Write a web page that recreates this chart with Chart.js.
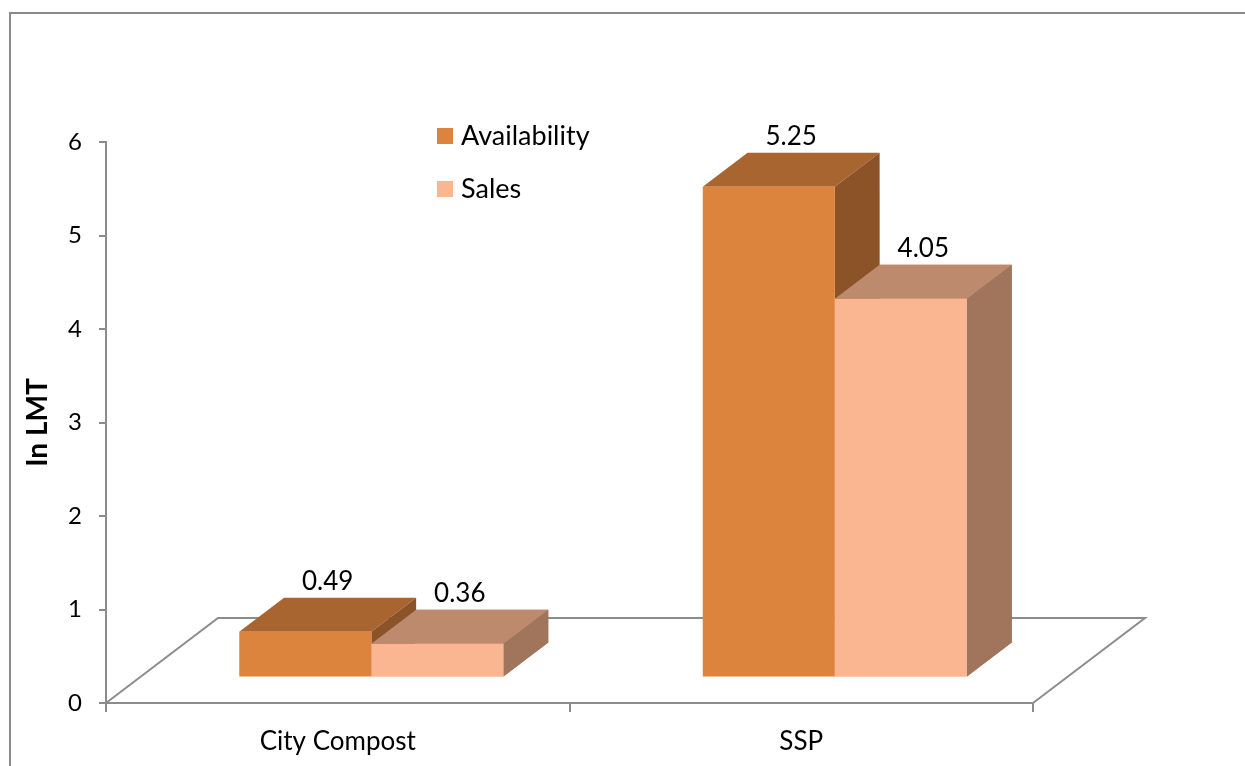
<!DOCTYPE html>
<html>
<head>
<meta charset="utf-8">
<script src="https://cdn.jsdelivr.net/npm/chart.js@4.4.0/dist/chart.umd.min.js"></script>
<style>
  html, body { margin: 0; padding: 0; background: #fff; }
  #wrap { width: 1245px; height: 766px; }
</style>
</head>
<body>
<div id="wrap"><canvas id="chart" width="1245" height="766"></canvas></div>
<script>
// data
const categories = ['City Compost', 'SSP'];
const availability = [0.49, 5.25];
const sales = [0.36, 4.05];
const yTicks = [0, 1, 2, 3, 4, 5, 6];

const FONT = 'Lato, "Open Sans", sans-serif';
const AXIS_GREY = '#8c8c8c';

// 3D look: floor depth and where the bars sit inside it
const FLOOR_DX = 112;
const FLOOR_DY = 85;
const BAR_POS = 0.3;
const BAR_DEPTH = 0.4;

// top + side faces of one bar
function drawFaces(ctx, bar, ds) {
  const dx = FLOOR_DX * BAR_DEPTH;
  const dy = FLOOR_DY * BAR_DEPTH;
  const { x, y, base, width } = bar.getProps(['x', 'y', 'base', 'width'], true);
  const l = x - width / 2;
  const r = x + width / 2;
  ctx.fillStyle = ds.topColor;
  ctx.beginPath();
  ctx.moveTo(l, y);
  ctx.lineTo(l + dx, y - dy);
  ctx.lineTo(r + dx, y - dy);
  ctx.lineTo(r, y);
  ctx.closePath();
  ctx.fill();
  ctx.fillStyle = ds.sideColor;
  ctx.beginPath();
  ctx.moveTo(r, y);
  ctx.lineTo(r + dx, y - dy);
  ctx.lineTo(r + dx, base - dy);
  ctx.lineTo(r, base);
  ctx.closePath();
  ctx.fill();
}

const box3d = {
  id: 'box3d',
  beforeDraw(chart) {
    const ctx = chart.ctx;
    ctx.save();
    ctx.fillStyle = '#fff';
    ctx.fillRect(0, 0, chart.width, chart.height);
    ctx.strokeStyle = '#8a8a8a';
    ctx.lineWidth = 2;
    ctx.strokeRect(10, 13, chart.width + 20, chart.height + 20);
    ctx.restore();
  },
  beforeDatasetsDraw(chart) {
    const { ctx, chartArea: a } = chart;
    ctx.save();
    // floor of the 3D box
    ctx.strokeStyle = AXIS_GREY;
    ctx.lineWidth = 2;
    ctx.beginPath();
    ctx.moveTo(a.left, a.bottom);
    ctx.lineTo(a.left + FLOOR_DX, a.bottom - FLOOR_DY);
    ctx.lineTo(a.right + FLOOR_DX, a.bottom - FLOOR_DY);
    ctx.lineTo(a.right, a.bottom);
    ctx.stroke();
    // bars stand a little way back on the floor
    ctx.translate(FLOOR_DX * BAR_POS, -FLOOR_DY * BAR_POS);
  },
  beforeDatasetDraw(chart, args) {
    const ds = chart.data.datasets[args.index];
    args.meta.data.forEach(bar => drawFaces(chart.ctx, bar, ds));
  },
  afterDatasetsDraw(chart) {
    const ctx = chart.ctx;
    // chart.js paints the first dataset last; repaint the right-hand series on top
    for (let i = 1; i < chart.data.datasets.length; i++) {
      const ds = chart.data.datasets[i];
      chart.getDatasetMeta(i).data.forEach(bar => {
        drawFaces(ctx, bar, ds);
        bar.draw(ctx);
      });
    }
    const dx = FLOOR_DX * BAR_DEPTH;
    const dy = FLOOR_DY * BAR_DEPTH;
    ctx.fillStyle = '#000';
    ctx.font = '26px ' + FONT;
    ctx.textAlign = 'center';
    ctx.textBaseline = 'bottom';
    chart.data.datasets.forEach((ds, i) => {
      chart.getDatasetMeta(i).data.forEach((bar, j) => {
        ctx.fillText(ds.data[j].toFixed(2), bar.x + dx / 2, bar.y - dy - 3);
      });
    });
    ctx.restore();
  },
  afterDraw(chart) {
    // legend, stacked vertically inside the plot
    const ctx = chart.ctx;
    ctx.save();
    ctx.font = '27px ' + FONT;
    ctx.textAlign = 'left';
    ctx.textBaseline = 'middle';
    chart.data.datasets.forEach((ds, i) => {
      const y = 136 + i * 53;
      ctx.fillStyle = ds.backgroundColor;
      ctx.fillRect(437, y - 8, 16, 16);
      ctx.fillStyle = '#000';
      ctx.fillText(ds.label, 461, y);
    });
    ctx.restore();
  }
};

new Chart(document.getElementById('chart'), {
  type: 'bar',
  data: {
    labels: categories,
    datasets: [
      {
        label: 'Availability',
        data: availability,
        backgroundColor: '#dc843d',
        topColor: '#a9652f',
        sideColor: '#8c5228'
      },
      {
        label: 'Sales',
        data: sales,
        backgroundColor: '#fab591',
        topColor: '#be8a6e',
        sideColor: '#a0755b'
      }
    ]
  },
  options: {
    responsive: false,
    animation: false,
    clip: false,
    categoryPercentage: 0.57,
    barPercentage: 1.0,
    layout: { padding: { top: 142, right: 212, left: 0, bottom: 0 } },
    plugins: {
      legend: { display: false },
      tooltip: { enabled: false }
    },
    scales: {
      x: {
        grid: { offset: true, drawOnChartArea: false, tickLength: 9, color: AXIS_GREY, lineWidth: 2 },
        border: { color: AXIS_GREY, width: 2 },
        ticks: { color: '#000', font: { family: FONT, size: 26 }, padding: 14 },
        afterFit(scale) { scale.height = 63; }
      },
      y: {
        min: 0,
        max: 6,
        afterBuildTicks(scale) { scale.ticks = yTicks.map(v => ({ value: v })); },
        grid: { drawOnChartArea: false, tickLength: 7, color: AXIS_GREY, lineWidth: 2 },
        border: { color: AXIS_GREY, width: 2 },
        ticks: { color: '#000', font: { family: FONT, size: 24 }, padding: 17 },
        title: {
          display: true,
          text: 'In LMT',
          color: '#000',
          font: { family: FONT, size: 28, weight: 'bold' },
          padding: { top: 21, bottom: 0 }
        },
        afterFit(scale) { scale.width = 106; }
      }
    }
  },
  plugins: [box3d]
});
</script>
</body>
</html>
